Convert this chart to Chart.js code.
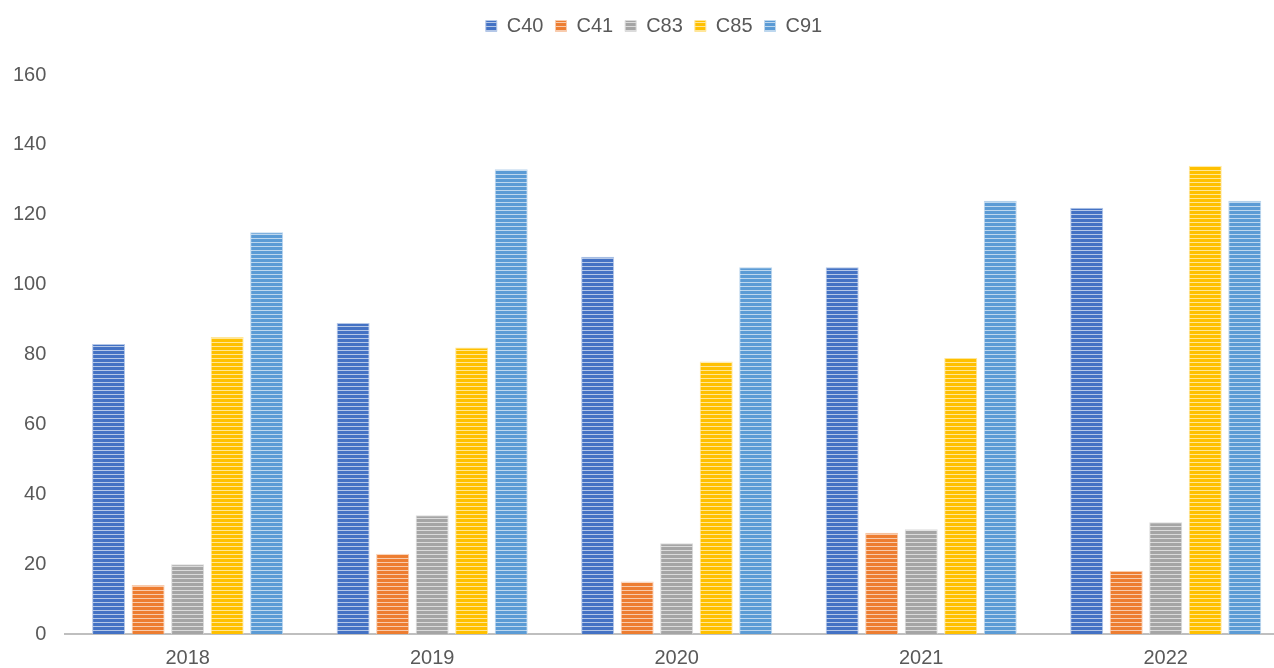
<!DOCTYPE html>
<html>
<head>
<meta charset="utf-8">
<script src="https://cdn.jsdelivr.net/npm/chart.js@4"></script>
<style>
  html, body { margin: 0; padding: 0; background: #fff; overflow: hidden; }
  #wrap { position: relative; left: -6px; width: 1294px; height: 682px; }
</style>
</head>
<body>
<div id="wrap"><canvas id="chart"></canvas></div>
<script>
const years = ["2018", "2019", "2020", "2021", "2022"];
const c40 = [83, 89, 108, 105, 122];
const c41 = [14, 23, 15, 29, 18];
const c83 = [20, 34, 26, 30, 32];
const c85 = [85, 82, 78, 79, 134];
const c91 = [115, 133, 105, 124, 124];
const yTicks = [0, 20, 40, 60, 80, 100, 120, 140, 160];

// horizontal stripe fill like the original
function stripes(color, light) {
  const c = document.createElement("canvas");
  c.width = 4; c.height = 4;
  const g = c.getContext("2d");
  g.fillStyle = color;
  g.fillRect(0, 0, 4, 4);
  g.fillStyle = light;
  g.fillRect(0, 2, 4, 1);
  return g.createPattern(c, "repeat");
}

function ds(label, data, color, light) {
  return {
    label: label,
    data: data,
    backgroundColor: stripes(color, light),
    borderColor: light,
    borderWidth: 1,
    categoryPercentage: 0.808,
    barPercentage: 0.835,
  };
}

// extra space under the legend, and nudge it right a bit
const legendGap = {
  id: "legendGap",
  beforeInit(chart) {
    const fit = chart.legend.fit;
    chart.legend.fit = function () {
      fit.bind(chart.legend)();
      this.height += 29;
    };
    const draw = chart.legend.draw;
    chart.legend.draw = function () {
      chart.ctx.save();
      chart.ctx.translate(13, 0);
      draw.call(this);
      chart.ctx.restore();
    };
  },
};

new Chart(document.getElementById("chart"), {
  type: "bar",
  data: {
    labels: years,
    datasets: [
      ds("C40", c40, "#4472c4", "#b4c7e7"),
      ds("C41", c41, "#ed7d31", "#f8cbad"),
      ds("C83", c83, "#a5a5a5", "#dbdbdb"),
      ds("C85", c85, "#ffc000", "#ffe699"),
      ds("C91", c91, "#5b9bd5", "#bdd7ee"),
    ],
  },
  plugins: [legendGap],
  options: {
    responsive: true,
    maintainAspectRatio: false,
    animation: false,
    layout: { padding: { left: 0, right: 0, top: 4, bottom: 0 } },
    plugins: {
      legend: {
        position: "top",
        labels: {
          color: "#595959",
          font: { family: "Liberation Sans", size: 20 },
          boxWidth: 11,
          boxHeight: 11,
          padding: 12,
        },
      },
      tooltip: { enabled: false },
    },
    scales: {
      x: {
        grid: { display: false, drawTicks: false },
        border: { color: "#bfbfbf", width: 2 },
        ticks: {
          color: "#595959",
          font: { family: "Liberation Sans", size: 20, lineHeight: 1 },
          padding: 14,
        },
      },
      y: {
        min: 0,
        max: 160,
        afterBuildTicks: (axis) => { axis.ticks = yTicks.map((v) => ({ value: v })); },
        grid: { display: false, drawTicks: false },
        border: { display: false },
        ticks: {
          color: "#595959",
          font: { family: "Liberation Sans", size: 20 },
          padding: 19,
        },
      },
    },
  },
});
</script>
</body>
</html>
